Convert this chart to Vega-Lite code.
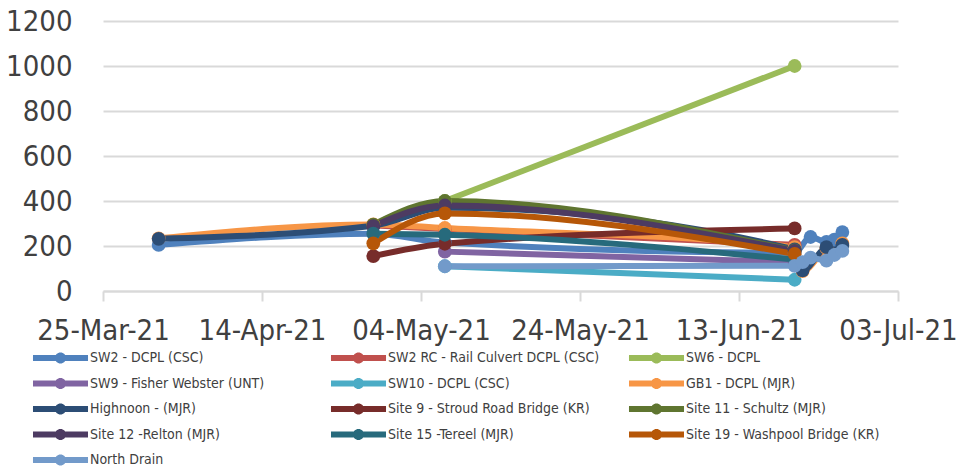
{
  "$schema": "https://vega.github.io/schema/vega-lite/v6.json",
  "width": 795,
  "height": 270,
  "autosize": "none",
  "padding": {"left": 103, "top": 21, "right": 59, "bottom": 178},
  "background": "white",
  "config": {"view": {"stroke": null}, "font": "'DejaVu Sans Condensed', 'Liberation Sans', sans-serif"},
  "data": {"values": [
    {"s": "SW2 - DCPL (CSC)", "d": "2021-04-01", "v": 205},
    {"s": "SW2 - DCPL (CSC)", "d": "2021-04-28", "v": 255},
    {"s": "SW2 - DCPL (CSC)", "d": "2021-05-07", "v": 215},
    {"s": "SW2 - DCPL (CSC)", "d": "2021-06-20", "v": 170},
    {"s": "SW2 - DCPL (CSC)", "d": "2021-06-22", "v": 240},
    {"s": "SW2 - DCPL (CSC)", "d": "2021-06-24", "v": 218},
    {"s": "SW2 - DCPL (CSC)", "d": "2021-06-25", "v": 228},
    {"s": "SW2 - DCPL (CSC)", "d": "2021-06-26", "v": 262},
    {"s": "SW2 RC - Rail Culvert DCPL (CSC)", "d": "2021-04-28", "v": 292},
    {"s": "SW2 RC - Rail Culvert DCPL (CSC)", "d": "2021-05-07", "v": 276},
    {"s": "SW2 RC - Rail Culvert DCPL (CSC)", "d": "2021-06-20", "v": 205},
    {"s": "SW6 - DCPL", "d": "2021-05-07", "v": 400},
    {"s": "SW6 - DCPL", "d": "2021-06-20", "v": 1000},
    {"s": "SW9 - Fisher Webster (UNT)", "d": "2021-05-07", "v": 175},
    {"s": "SW9 - Fisher Webster (UNT)", "d": "2021-06-20", "v": 128},
    {"s": "SW10 - DCPL (CSC)", "d": "2021-05-07", "v": 110},
    {"s": "SW10 - DCPL (CSC)", "d": "2021-06-20", "v": 50},
    {"s": "GB1 - DCPL (MJR)", "d": "2021-04-01", "v": 234},
    {"s": "GB1 - DCPL (MJR)", "d": "2021-04-28", "v": 296},
    {"s": "GB1 - DCPL (MJR)", "d": "2021-05-07", "v": 280},
    {"s": "GB1 - DCPL (MJR)", "d": "2021-06-20", "v": 195},
    {"s": "GB1 - DCPL (MJR)", "d": "2021-06-21", "v": 88},
    {"s": "GB1 - DCPL (MJR)", "d": "2021-06-24", "v": 190},
    {"s": "GB1 - DCPL (MJR)", "d": "2021-06-26", "v": 212},
    {"s": "Highnoon - (MJR)", "d": "2021-04-01", "v": 232},
    {"s": "Highnoon - (MJR)", "d": "2021-04-28", "v": 290},
    {"s": "Highnoon - (MJR)", "d": "2021-05-07", "v": 370},
    {"s": "Highnoon - (MJR)", "d": "2021-06-20", "v": 185},
    {"s": "Highnoon - (MJR)", "d": "2021-06-21", "v": 92},
    {"s": "Highnoon - (MJR)", "d": "2021-06-24", "v": 195},
    {"s": "Highnoon - (MJR)", "d": "2021-06-26", "v": 205},
    {"s": "Site 9 - Stroud Road Bridge (KR)", "d": "2021-04-28", "v": 155},
    {"s": "Site 9 - Stroud Road Bridge (KR)", "d": "2021-05-07", "v": 210},
    {"s": "Site 9 - Stroud Road Bridge (KR)", "d": "2021-06-20", "v": 278},
    {"s": "Site 11 - Schultz (MJR)", "d": "2021-04-28", "v": 295},
    {"s": "Site 11 - Schultz (MJR)", "d": "2021-05-07", "v": 400},
    {"s": "Site 11 - Schultz (MJR)", "d": "2021-06-20", "v": 180},
    {"s": "Site 12 -Relton (MJR)", "d": "2021-04-28", "v": 288},
    {"s": "Site 12 -Relton (MJR)", "d": "2021-05-07", "v": 380},
    {"s": "Site 12 -Relton (MJR)", "d": "2021-06-20", "v": 178},
    {"s": "Site 15 -Tereel (MJR)", "d": "2021-04-28", "v": 255},
    {"s": "Site 15 -Tereel (MJR)", "d": "2021-05-07", "v": 250},
    {"s": "Site 15 -Tereel (MJR)", "d": "2021-06-20", "v": 140},
    {"s": "Site 19 - Washpool Bridge (KR)", "d": "2021-04-28", "v": 212},
    {"s": "Site 19 - Washpool Bridge (KR)", "d": "2021-05-07", "v": 345},
    {"s": "Site 19 - Washpool Bridge (KR)", "d": "2021-06-20", "v": 165},
    {"s": "North Drain", "d": "2021-05-07", "v": 110},
    {"s": "North Drain", "d": "2021-06-20", "v": 112},
    {"s": "North Drain", "d": "2021-06-21", "v": 128},
    {"s": "North Drain", "d": "2021-06-22", "v": 148},
    {"s": "North Drain", "d": "2021-06-24", "v": 135},
    {"s": "North Drain", "d": "2021-06-25", "v": 160},
    {"s": "North Drain", "d": "2021-06-26", "v": 178}
  ]},
  "mark": {"type": "line", "interpolate": "monotone", "strokeWidth": 6, "point": {"filled": true, "size": 190, "opacity": 1}},
  "encoding": {
    "x": {
      "field": "d", "type": "temporal",
      "scale": {"type": "utc", "domain": [{"year": 2021, "month": 3, "date": 25, "utc": true}, {"year": 2021, "month": 7, "date": 3, "utc": true}]},
      "axis": {
        "title": null, "format": "%d-%b-%y",
        "values": [
          {"year": 2021, "month": 3, "date": 25, "utc": true},
          {"year": 2021, "month": 4, "date": 14, "utc": true},
          {"year": 2021, "month": 5, "date": 4, "utc": true},
          {"year": 2021, "month": 5, "date": 24, "utc": true},
          {"year": 2021, "month": 6, "date": 13, "utc": true},
          {"year": 2021, "month": 7, "date": 3, "utc": true}
        ],
        "grid": false, "domainColor": "#D9D9D9", "domainWidth": 2,
        "tickColor": "#D9D9D9", "tickWidth": 2, "tickSize": 10,
        "labelFontSize": 29, "labelColor": "#404040", "labelPadding": 15,
        "labelOverlap": false, "labelFlush": false
      }
    },
    "y": {
      "field": "v", "type": "quantitative",
      "scale": {"domain": [0, 1200]},
      "axis": {
        "title": null, "values": [0, 200, 400, 600, 800, 1000, 1200], "format": "d",
        "domain": false, "ticks": false, "gridColor": "#D9D9D9", "gridWidth": 2,
        "labelFontSize": 29, "labelColor": "#404040", "labelPadding": 31
      }
    },
    "color": {
      "field": "s", "type": "nominal",
      "scale": {
        "domain": ["SW2 - DCPL (CSC)", "SW2 RC - Rail Culvert DCPL (CSC)", "SW6 - DCPL", "SW9 - Fisher Webster (UNT)", "SW10 - DCPL (CSC)", "GB1 - DCPL (MJR)", "Highnoon - (MJR)", "Site 9 - Stroud Road Bridge (KR)", "Site 11 - Schultz (MJR)", "Site 12 -Relton (MJR)", "Site 15 -Tereel (MJR)", "Site 19 - Washpool Bridge (KR)", "North Drain"],
        "range": ["#4F81BD", "#C0504D", "#9BBB59", "#8064A2", "#4BACC6", "#F79646", "#2C4D75", "#772C2A", "#5F7530", "#4D3B62", "#276A7C", "#B65708", "#729ACA"]
      },
      "legend": {
        "title": null, "orient": "none", "legendX": -50.5, "legendY": 329,
        "direction": "horizontal", "columns": 3, "gridAlign": "all", "columnPadding": 29, "rowPadding": 10.5,
        "symbolType": "M-3.44,-0.375H3.44V0.375H-3.44Z M0.69,0A0.69,0.69,0,1,1,-0.69,0A0.69,0.69,0,1,1,0.69,0Z",
        "symbolSize": 256, "symbolStrokeWidth": 0, "labelOffset": 21.5,
        "labelFontSize": 14, "labelColor": "#404040", "labelLimit": 400,
        "encode": {"symbols": {"update": {"fill": {"scale": "color", "field": "value"}, "strokeWidth": {"value": 0}, "opacity": {"value": 1}}}}
      }
    }
  }
}
